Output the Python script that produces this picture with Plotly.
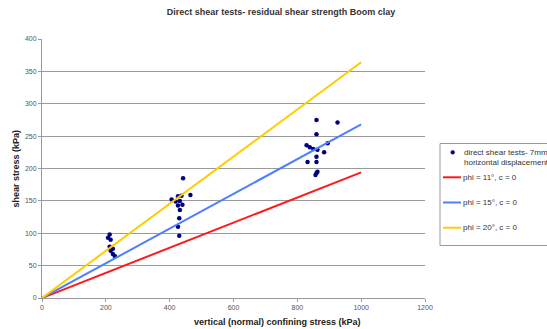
import plotly.graph_objects as go

# ---- data ----
test_normal = [212, 207, 215, 212, 222, 215, 222, 228,
               442, 406, 426, 437, 465, 419, 432, 426, 440, 432, 430, 426, 430,
               860, 926, 860, 829, 839, 850, 895, 863, 884, 860, 832, 860, 863, 860, 857]
test_shear = [98, 93, 90, 79, 76, 73, 68, 65,
              185, 152, 157, 158, 159, 149, 150, 143, 144, 136, 123, 110, 96,
              275, 271, 253, 236, 233, 230, 239, 229, 225, 218, 210, 210, 195, 193, 190]

envelope_normal = [0, 1000]
phi11_shear = [0, 194]
phi15_shear = [0, 268]
phi20_shear = [0, 364]

x_ticks = [0, 200, 400, 600, 800, 1000, 1200]
y_ticks = [0, 50, 100, 150, 200, 250, 300, 350, 400]

series_names = ["direct shear tests- 7mm<br>horizontal displacement",
                "phi = 11°, c = 0", "phi = 15°, c = 0", "phi = 20°, c = 0"]
series_colors = ["#00007f", "#ff1a1a", "#4d80ff", "#ffcc00"]

FONT = "Liberation Sans, Arial, sans-serif"

L, R, T, B = 42, 122, 39, 31
W, H = 547, 329
pw = W - L - R
ph = H - T - B


def px(xp):
    return (xp - L) / pw


def py(yp):
    return (H - B - yp) / ph


fig = go.Figure()
fig.add_trace(go.Scatter(
    x=test_normal, y=test_shear, mode="markers", name=series_names[0],
    marker=dict(color=series_colors[0], size=4.5)))
for name, col, ys in zip(series_names[1:], series_colors[1:],
                         [phi11_shear, phi15_shear, phi20_shear]):
    fig.add_trace(go.Scatter(x=envelope_normal, y=ys, mode="lines", name=name,
                             line=dict(color=col, width=2)))

# ---- legend drawn as box + samples + text (Excel style, partly cut at right) ----
shapes = [dict(type="rect", xref="paper", yref="paper",
               x0=px(440), x1=px(570), y0=py(245.5), y1=py(143.5),
               line=dict(color="#999", width=1), fillcolor="white", layer="above")]
shapes.append(dict(type="circle", xref="paper", yref="paper",
                   x0=px(450.8), x1=px(454.6), y0=py(154.2), y1=py(150.4),
                   line=dict(color=series_colors[0], width=0.5),
                   fillcolor=series_colors[0], layer="above"))
annotations = [dict(text=series_names[0], xref="paper", yref="paper",
                    x=px(462), y=py(157), xanchor="left", yanchor="middle", align="left",
                    showarrow=False, font=dict(family=FONT, size=8, color="#333"))]
for i, (name, col) in enumerate(zip(series_names[1:], series_colors[1:])):
    yy = 177.3 + i * 25.2
    shapes.append(dict(type="line", xref="paper", yref="paper",
                       x0=px(443), x1=px(461), y0=py(yy), y1=py(yy),
                       line=dict(color=col, width=2), layer="above"))
    annotations.append(dict(text=name, xref="paper", yref="paper",
                            x=px(461), y=py(yy), xanchor="left", yanchor="middle",
                            showarrow=False, font=dict(family=FONT, size=8, color="#333")))

annotations += [
    dict(text="vertical (normal) confining stress (kPa)", xref="paper", yref="paper",
         x=px(277.5), y=py(322), xanchor="center", yanchor="middle",
         showarrow=False, font=dict(family=FONT, size=9, color="#222", weight="bold")),
    dict(text="shear stress (kPa)", xref="paper", yref="paper",
         x=px(15), y=0.5, xanchor="center", yanchor="middle", textangle=-90,
         showarrow=False, font=dict(family=FONT, size=9, color="#222", weight="bold")),
]

fig.update_layout(
    width=W, height=H,
    margin=dict(l=L, r=R, t=T, b=B, autoexpand=False),
    paper_bgcolor="white", plot_bgcolor="white",
    font=dict(family=FONT, size=7, color="#444"),
    title=dict(text="Direct shear tests- residual shear strength Boom clay",
               x=281 / W, xref="container", xanchor="center",
               y=1 - 12 / H, yref="container", yanchor="middle",
               font=dict(family=FONT, size=9, color="#333", weight="bold")),
    xaxis=dict(range=[0, 1200], tickvals=x_ticks, showgrid=False, zeroline=False,
               showline=True, linecolor="#999", linewidth=1,
               ticks="outside", ticklen=3, tickcolor="#999",
               tickfont=dict(size=7, color="#555")),
    yaxis=dict(range=[0, 400], tickvals=y_ticks, showgrid=True, gridcolor="#9a9a9a",
               gridwidth=1, zeroline=False,
               showline=True, linecolor="#999", linewidth=1,
               ticks="outside", ticklen=3, tickcolor="#999",
               tickfont=dict(size=7, color="#555")),
    showlegend=False,
    shapes=shapes,
    annotations=annotations,
)

fig.write_html("out.html", config={"displayModeBar": False},
               post_script="document.body.style.margin='0';document.body.style.overflow='hidden';")
